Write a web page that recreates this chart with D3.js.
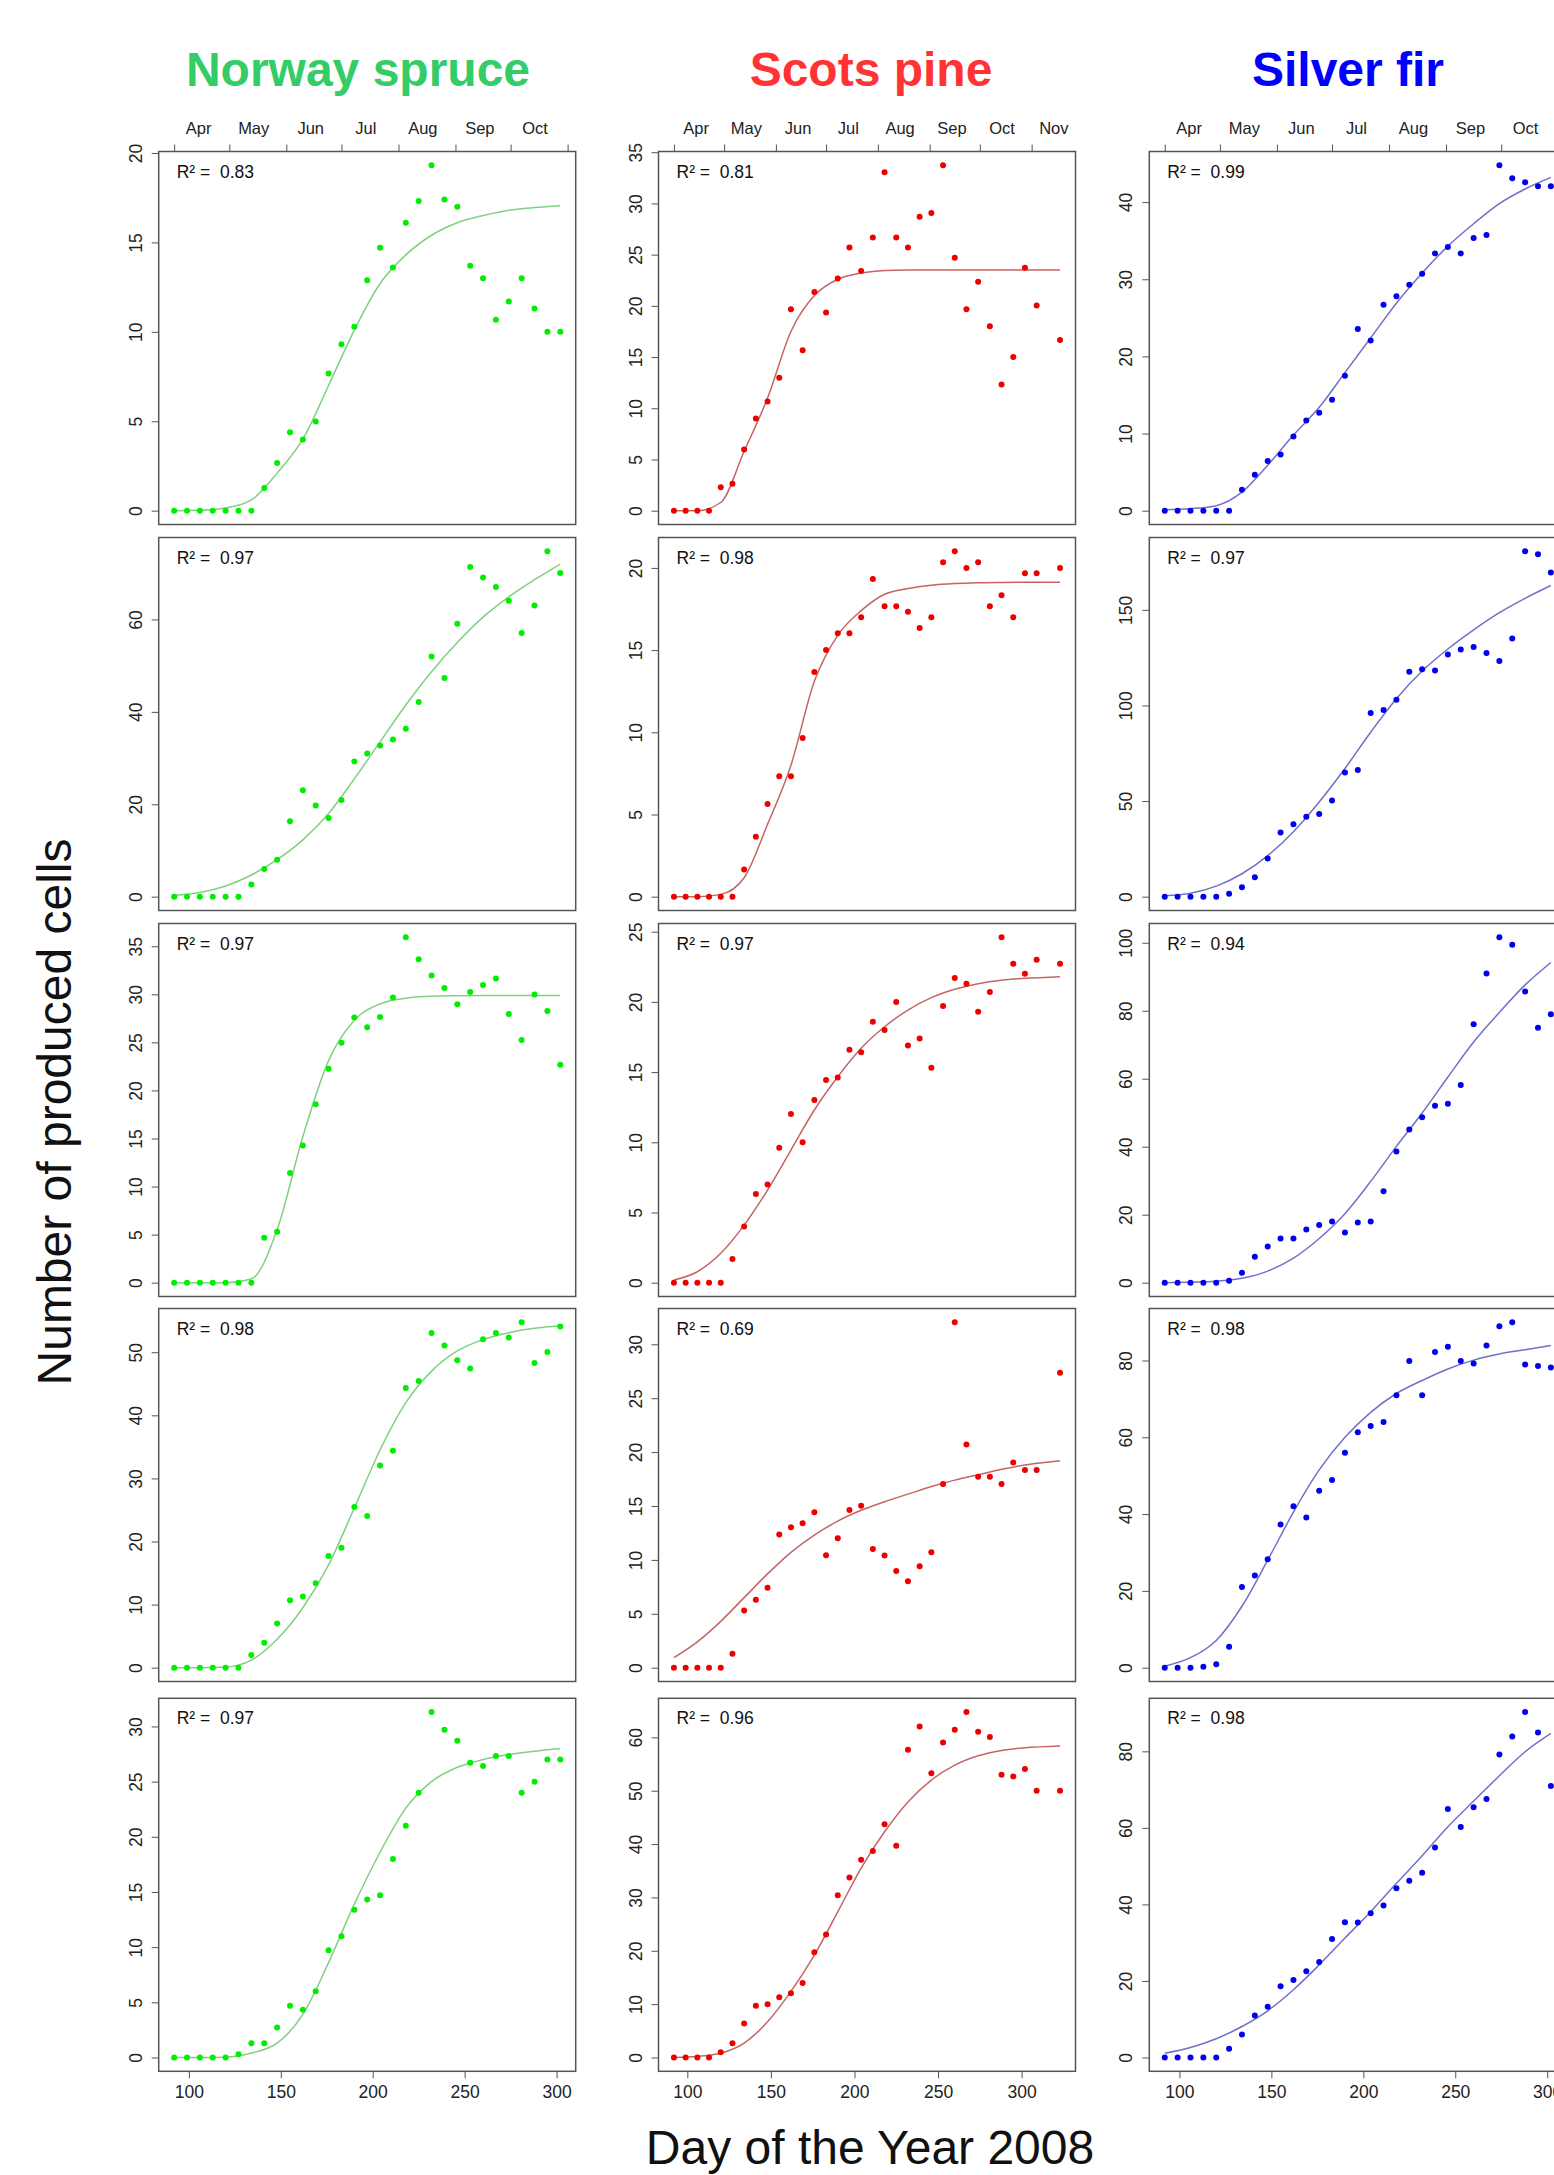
<!DOCTYPE html>
<html>
<head>
<meta charset="utf-8">
<title>Number of produced cells, 2008</title>
<script src="https://cdnjs.cloudflare.com/ajax/libs/d3/7.8.5/d3.min.js"></script>
<style>
  body { margin: 0; background: #fff; font-family: "Liberation Sans", Arial, Helvetica, sans-serif; }
  svg { display: block; }
</style>
</head>
<body>
<svg id="chart" width="1554" height="2175"></svg>
<script>
// ---- data ----
var species = ["Norway spruce", "Scots pine", "Silver fir"];

// sampling days (day of year 2008)
var daysWeekly = [92, 99, 106, 113, 120, 127, 134, 141, 148, 155, 162, 169, 176, 183, 190, 197,
                  204, 211, 218, 225, 232, 239, 246, 253, 260, 267, 274, 281, 288, 295, 302];
var daysPine = [92, 99, 106, 113, 120, 127, 134, 141, 148, 155, 162, 169, 176, 183, 190, 197,
                204, 211, 218, 225, 232, 239, 246, 253, 260, 267, 274, 281, 288, 295, 302, 309, 323];
var fitDays = [92, 106, 120, 134, 148, 162, 176, 190, 204, 218, 232, 246, 260, 274, 288, 302];
var fitDaysPine = [92, 106, 120, 134, 148, 162, 176, 190, 204, 218, 232, 246, 260, 274, 288, 302, 323];

// observed cells, one array per tree (rows of the figure)
var spruceCells = [
  [0, 0, 0, 0, 0, 0, 0, 1.27, 2.67, 4.39, 3.98, 4.99, 7.67, 9.30, 10.29, 12.89, 14.70, 13.59, 16.10, 17.31, 19.31, 17.40, 16.99, 13.69, 13.0, 10.68, 11.69, 13.0, 11.30, 10.0, 10.0],
  [0, 0, 0, 0, 0, 0, 2.66, 5.97, 7.99, 16.33, 23.02, 19.71, 17.05, 20.94, 29.28, 31.0, 32.73, 34.03, 36.33, 42.16, 52.0, 47.34, 59.06, 71.37, 69.06, 67.05, 64.03, 57.05, 63.02, 74.75, 70.07],
  [0, 0, 0, 0, 0, 0, 0, 4.68, 5.30, 11.40, 14.28, 18.57, 22.25, 24.95, 27.58, 26.58, 27.65, 29.66, 35.93, 33.65, 31.95, 30.66, 28.97, 30.25, 30.98, 31.64, 27.96, 25.26, 29.97, 28.27, 22.66],
  [0, 0, 0, 0, 0, 0, 2.0, 3.95, 7.0, 10.7, 11.27, 13.38, 17.7, 19.02, 25.45, 24.03, 32.03, 34.4, 44.31, 45.42, 53.06, 51.05, 48.74, 47.42, 52.05, 53.06, 52.32, 54.74, 48.31, 50.05, 54.06],
  [0, 0, 0, 0, 0, 0.3, 1.3, 1.3, 2.72, 4.68, 4.32, 6.0, 9.72, 10.99, 13.4, 14.31, 14.7, 17.99, 21.0, 24.0, 31.3, 29.7, 28.7, 26.71, 26.41, 27.32, 27.32, 24.0, 24.99, 27.01, 27.01]
];
var pineCells = [
  [0, 0, 0, 0, 2.28, 2.64, 5.97, 9.0, 10.67, 12.98, 19.67, 15.66, 21.36, 19.34, 22.67, 25.70, 23.39, 26.68, 33.04, 26.68, 25.70, 28.70, 29.06, 33.72, 24.69, 19.67, 22.34, 18.0, 12.33, 15.0, 23.71, 20.03, 16.67],
  [0, 0, 0, 0, 0, 0, 1.66, 3.64, 5.64, 7.32, 7.32, 9.65, 13.67, 15.0, 16.02, 16.02, 17.0, 19.33, 17.67, 17.67, 17.33, 16.34, 17.0, 20.34, 21.01, 20.0, 20.34, 17.67, 18.34, 17.0, 19.68, 19.68, 20.0],
  [0, 0, 0, 0, 0, 1.69, 4.01, 6.32, 7.0, 9.62, 12.01, 10.0, 13.01, 14.43, 14.62, 16.6, 16.41, 18.59, 18.0, 19.99, 16.9, 17.4, 15.31, 19.71, 21.7, 21.3, 19.3, 20.7, 24.6, 22.72, 22.01, 23.0, 22.72],
  [0, 0, 0, 0, 0, 1.30, 5.31, 6.30, 7.41, 12.35, 13.02, 13.4, 14.41, 10.43, 12.0, 14.63, 15.03, 11.02, 10.4, 8.98, 8.02, 9.41, 10.71, 17.04, 32.04, 20.71, 17.72, 17.72, 17.04, 19.04, 18.33, 18.33, 27.35],
  [0, 0, 0, 0, 1.0, 2.68, 6.37, 9.68, 9.99, 11.3, 12.05, 13.98, 19.73, 23.03, 30.4, 33.71, 37.08, 38.7, 43.7, 39.7, 57.68, 62.05, 53.25, 59.05, 61.42, 64.73, 61.05, 60.05, 53.0, 52.68, 54.06, 50.0, 50.0]
];
var firCells = [
  [0, 0, 0, 0, 0, 0, 2.71, 4.65, 6.45, 7.29, 9.61, 11.68, 12.71, 14.39, 17.48, 23.55, 22.06, 26.71, 27.81, 29.29, 30.71, 33.35, 34.19, 33.35, 35.35, 35.74, 44.77, 43.1, 42.58, 42.06, 42.06],
  [0, 0, 0, 0, 0, 1.56, 4.93, 10.1, 20.0, 33.5, 37.9, 41.8, 43.3, 50.3, 64.9, 66.2, 96.0, 97.6, 103.0, 117.6, 118.9, 118.3, 126.7, 129.2, 130.5, 127.4, 123.3, 135.0, 180.6, 179.1, 169.5],
  [0, 0, 0, 0, 0, 0.58, 2.92, 7.6, 10.67, 13.0, 13.0, 15.64, 16.96, 17.98, 14.77, 17.69, 17.98, 26.9, 38.6, 45.03, 48.68, 52.05, 52.63, 58.19, 76.02, 90.94, 101.6, 99.4, 85.67, 75.0, 78.95],
  [0, 0, 0, 0.26, 0.9, 5.42, 21.0, 24.0, 28.26, 37.3, 42.06, 39.1, 46.06, 48.9, 56.0, 61.3, 62.97, 64.0, 70.97, 79.87, 70.97, 82.19, 83.6, 79.87, 79.23, 83.87, 88.9, 89.94, 78.97, 78.58, 78.19],
  [0, 0, 0, 0, 0, 2.26, 6.0, 10.97, 13.23, 18.62, 20.28, 22.54, 24.98, 30.98, 35.33, 35.25, 37.68, 39.69, 44.2, 46.21, 48.3, 54.9, 64.93, 60.23, 65.36, 67.54, 79.2, 83.9, 90.25, 84.94, 70.93]
];

// fitted growth curves, read at fitDays / fitDaysPine
var spruceFit = [
  [0, 0.02, 0.15, 0.6, 2.1, 4.0, 7.0, 10.1, 12.7, 14.3, 15.4, 16.1, 16.5, 16.8, 16.95, 17.05],
  [0.3, 0.9, 2.3, 4.7, 8.0, 12.3, 18.0, 25.5, 33.5, 41.5, 48.7, 55.0, 60.5, 64.9, 68.6, 72.0],
  [0, 0, 0, 0.4, 5.5, 15.2, 23.1, 27.3, 29.0, 29.6, 29.8, 29.85, 29.87, 29.87, 29.87, 29.87],
  [0, 0, 0.1, 1.2, 4.5, 9.5, 16.3, 25.3, 34.5, 42.0, 47.0, 50.2, 52.0, 53.1, 53.8, 54.2],
  [0, 0, 0.03, 0.4, 1.3, 3.9, 8.6, 13.9, 18.6, 22.6, 25.0, 26.3, 27.0, 27.45, 27.75, 28.0]
];
var pineFit = [
  [0, 0, 0.8, 5.8, 11.0, 17.5, 21.0, 22.6, 23.2, 23.45, 23.5, 23.5, 23.5, 23.5, 23.5, 23.5, 23.5],
  [0, 0, 0.14, 1.15, 4.4, 8.0, 13.1, 15.9, 17.4, 18.4, 18.75, 18.95, 19.05, 19.1, 19.12, 19.13, 19.13],
  [0.19, 0.78, 2.09, 4.1, 6.6, 9.45, 12.3, 14.67, 16.7, 18.23, 19.42, 20.3, 20.9, 21.3, 21.55, 21.68, 21.8],
  [0.93, 2.4, 4.3, 6.5, 8.7, 10.7, 12.3, 13.6, 14.6, 15.4, 16.1, 16.8, 17.4, 17.9, 18.4, 18.8, 19.2],
  [0, 0.2, 0.8, 2.7, 6.7, 12.4, 19.2, 27.3, 35.5, 42.3, 47.9, 52.0, 54.8, 56.55, 57.55, 58.05, 58.4]
];
var firFit = [
  [0.13, 0.26, 0.65, 2.4, 5.9, 9.8, 13.4, 17.9, 22.4, 26.9, 30.8, 34.3, 37.2, 39.8, 41.7, 43.2],
  [0.5, 1.8, 5.5, 12.0, 21.5, 34.0, 49.5, 67.0, 86.0, 103.5, 118.0, 129.5, 139.5, 148.5, 156.0, 162.7],
  [0.0, 0.15, 0.44, 1.3, 3.4, 7.2, 13.0, 20.3, 29.8, 40.1, 49.9, 60.5, 70.8, 79.5, 87.6, 94.2],
  [0.4, 2.6, 7.1, 16.0, 28.0, 40.5, 51.5, 60.0, 66.5, 71.4, 74.8, 77.8, 80.1, 81.7, 82.8, 83.9],
  [1.1, 2.6, 4.9, 8.1, 12.2, 17.7, 24.2, 31.2, 38.1, 45.5, 52.7, 60.3, 67.0, 73.6, 79.9, 84.7]
];

var spruceR2 = ["0.83", "0.97", "0.97", "0.98", "0.97"];
var pineR2 = ["0.81", "0.98", "0.97", "0.69", "0.96"];
var firR2 = ["0.99", "0.97", "0.94", "0.98", "0.98"];

// y tick labels per panel
var spruceTicks = [[0, 5, 10, 15, 20], [0, 20, 40, 60], [0, 5, 10, 15, 20, 25, 30, 35], [0, 10, 20, 30, 40, 50], [0, 5, 10, 15, 20, 25, 30]];
var pineTicks = [[0, 5, 10, 15, 20, 25, 30, 35], [0, 5, 10, 15, 20], [0, 5, 10, 15, 20, 25], [0, 5, 10, 15, 20, 25, 30], [0, 10, 20, 30, 40, 50, 60]];
var firTicks = [[0, 10, 20, 30, 40], [0, 50, 100, 150], [0, 20, 40, 60, 80, 100], [0, 20, 40, 60, 80], [0, 20, 40, 60, 80]];

var dayTicks = [100, 150, 200, 250, 300];
var monthNames = ["Apr", "May", "Jun", "Jul", "Aug", "Sep", "Oct", "Nov"];
var monthStarts = [92, 122, 153, 183, 214, 245, 275, 306];
var monthMids = [105, 135, 166, 196, 227, 258, 288, 319];

// ---- layout ----
var titleColors = ["#33cc66", "#ff3333", "#0000ff"];
var pointColors = ["#00ee00", "#ee0000", "#0000ee"];
var fitColors = ["#80d080", "#c66464", "#7070c8"];
var colLeft = [158.7, 658.5, 1149.3];
var titleX = [358, 871, 1348];
var rowTop = [151.5, 537.5, 923.5, 1308.5, 1698.3];
var panelW = 417, panelH = 373;

var cols = [
  {days: daysWeekly, cells: spruceCells, fDays: fitDays, fit: spruceFit, r2: spruceR2, ticks: spruceTicks, months: 7},
  {days: daysPine, cells: pineCells, fDays: fitDaysPine, fit: pineFit, r2: pineR2, ticks: pineTicks, months: 8},
  {days: daysWeekly, cells: firCells, fDays: fitDays, fit: firFit, r2: firR2, ticks: firTicks, months: 7}
];

var svg = d3.select("#chart");

function padded(lo, hi) {
  var r = hi - lo;
  return [lo - 0.04 * r, hi + 0.04 * r];
}

cols.forEach(function (col, c) {
  var x = d3.scaleLinear()
    .domain(padded(d3.min(col.days), d3.max(col.days)))
    .range([colLeft[c], colLeft[c] + panelW]);

  svg.append("text")
    .attr("x", titleX[c]).attr("y", 86)
    .attr("text-anchor", "middle")
    .style("font-size", "48px").style("font-weight", "bold")
    .style("fill", titleColors[c])
    .text(species[c]);

  col.cells.forEach(function (vals, r) {
    var top = rowTop[r];
    var y = d3.scaleLinear()
      .domain(padded(0, d3.max(vals)))
      .range([top + panelH, top]);
    var g = svg.append("g");

    // y axis
    var ya = g.append("g")
      .attr("transform", "translate(" + colLeft[c] + ",0)")
      .call(d3.axisLeft(y).tickValues(col.ticks[r]).tickSize(7).tickSizeOuter(0));
    ya.select(".domain").remove();
    ya.selectAll("line").attr("stroke", "#555");
    ya.selectAll("text")
      .attr("transform", "rotate(-90)")
      .attr("x", 0).attr("y", -17).attr("dy", 0)
      .attr("text-anchor", "middle")
      .style("font-size", "17.5px").style("fill", "#222")
      .style("font-family", "'Liberation Sans', Arial, sans-serif");

    if (r === 0) {
      var ms = monthStarts.slice(0, col.months + 1).filter(function (d) {
        return d <= x.domain()[1];
      });
      var ta = g.append("g")
        .attr("transform", "translate(0," + top + ")")
        .call(d3.axisTop(x).tickValues(ms).tickSize(7).tickSizeOuter(0).tickFormat(""));
      ta.select(".domain").remove();
      ta.selectAll("line").attr("stroke", "#555");

      var ml = g.append("g")
        .attr("transform", "translate(0," + top + ")")
        .call(d3.axisTop(x).tickValues(monthMids.slice(0, col.months)).tickSize(0)
          .tickFormat(function (d, i) { return monthNames[i]; }));
      ml.select(".domain").remove();
      ml.selectAll("text")
        .attr("y", -18).attr("dy", 0)
        .style("font-size", "16.5px").style("fill", "#222")
        .style("font-family", "'Liberation Sans', Arial, sans-serif");
    }

    if (r === rowTop.length - 1) {
      var ba = g.append("g")
        .attr("transform", "translate(0," + (top + panelH) + ")")
        .call(d3.axisBottom(x).tickValues(dayTicks).tickSize(7).tickSizeOuter(0));
      ba.select(".domain").remove();
      ba.selectAll("line").attr("stroke", "#555");
      ba.selectAll("text")
        .attr("y", 27).attr("dy", 0)
        .style("font-size", "17.5px").style("fill", "#222")
        .style("font-family", "'Liberation Sans', Arial, sans-serif");
    }

    // fitted curve
    var line = d3.line()
      .x(function (d) { return x(d[0]); })
      .y(function (d) { return y(d[1]); })
      .curve(d3.curveMonotoneX);
    g.append("path")
      .datum(d3.zip(col.fDays, col.fit[r]))
      .attr("d", line)
      .attr("fill", "none")
      .attr("stroke", fitColors[c])
      .attr("stroke-width", 1.5);

    // observations
    g.selectAll("circle")
      .data(d3.zip(col.days, vals))
      .enter().append("circle")
      .attr("cx", function (d) { return x(d[0]); })
      .attr("cy", function (d) { return y(d[1]); })
      .attr("r", 3)
      .attr("fill", pointColors[c]);

    // box
    g.append("rect")
      .attr("x", colLeft[c]).attr("y", top)
      .attr("width", panelW).attr("height", panelH)
      .attr("fill", "none").attr("stroke", "#555").attr("stroke-width", 1.5);

    g.append("text")
      .attr("x", colLeft[c] + 18).attr("y", top + 26)
      .style("font-size", "17.5px").style("fill", "#111")
      .style("white-space", "pre")
      .text("R\u00b2 =  " + col.r2[r]);
  });
});

svg.append("text")
  .attr("transform", "translate(71,1112) rotate(-90)")
  .attr("text-anchor", "middle")
  .style("font-size", "48px").style("fill", "#111")
  .text("Number of produced cells");

svg.append("text")
  .attr("x", 870).attr("y", 2164)
  .attr("text-anchor", "middle")
  .style("font-size", "48px").style("fill", "#111")
  .text("Day of the Year 2008");
</script>
</body>
</html>
